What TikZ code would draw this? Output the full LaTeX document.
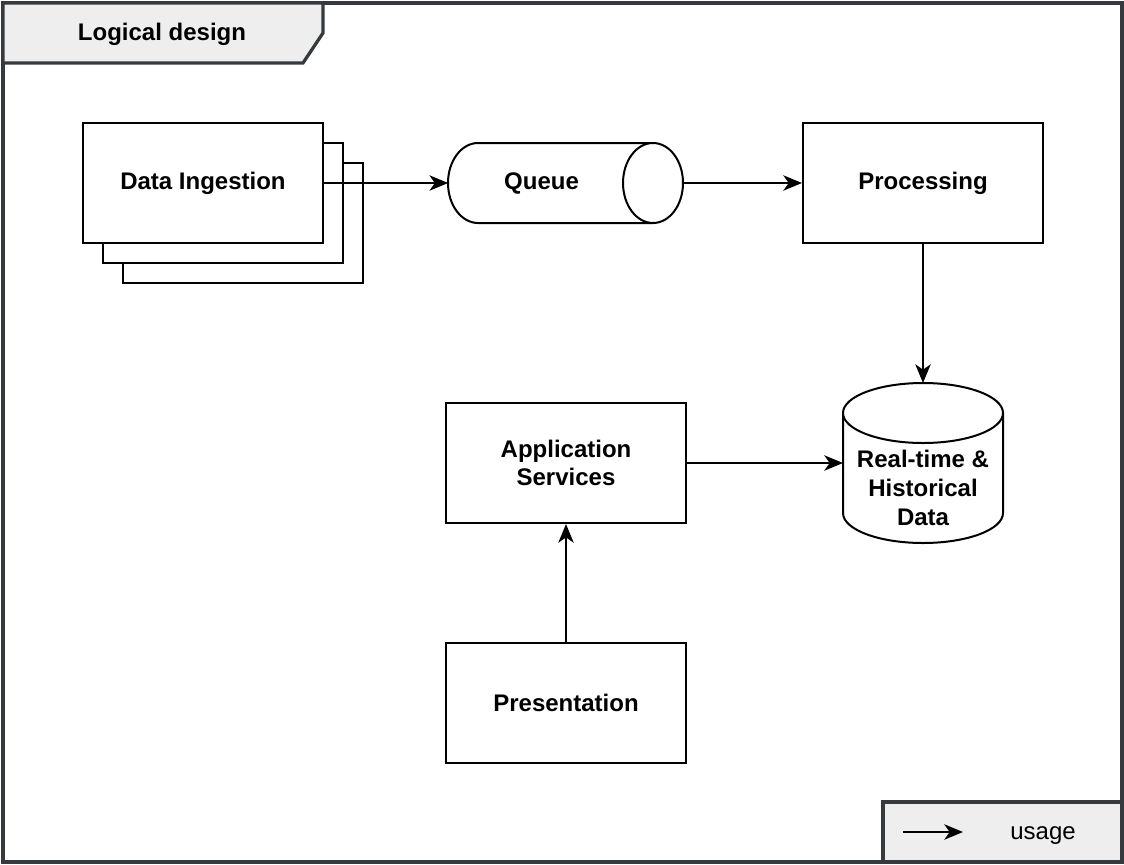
\documentclass[tikz,border=0pt]{standalone}
\usepackage{fontspec}
\setmainfont{Liberation Sans}
\usepackage{tikz}
\usetikzlibrary{positioning,arrows.meta}
\definecolor{framegray}{HTML}{36393D}
\definecolor{tabfill}{HTML}{EEEEEE}
\tikzset{
  usearrow/.style={-{Stealth[length=14pt,width=11.5pt,inset=4pt]}, line width=1.5pt},
  compbox/.style={draw, line width=1.5pt, fill=white, minimum width=180pt, minimum height=90pt, align=center, inner sep=2pt},
  shapeline/.style={line width=1.5pt, fill=white},
  hullnode/.style={inner sep=0pt, outer sep=0pt, align=center},
  framebox/.style={draw=framegray, line width=2.4pt},
  lbl/.style={font=\fontsize{18}{21.6}\selectfont}
}
\begin{document}
\begin{tikzpicture}[x=0.75pt, y=-0.75pt, every node/.style={font=\fontsize{18}{21.6}\selectfont\bfseries}]
  \useasboundingbox (0,0) rectangle (1124,864);
  % frame and title tab
  \draw[framebox] (3,3) rectangle (1122,862);
  \draw[framebox, fill=tabfill] (3,3) -- (323,3) -- (323,33) -- (303,63) -- (3,63) -- cycle;
  \node (title) at (162,34) {Logical design};
  % data ingestion stack
  \node[compbox] (ing3) at (243,223) {};
  \node[compbox] (ing2) at (223,203) {};
  \node[compbox] (ing) at (203,183) {Data Ingestion};
  % queue (horizontal cylinder)
  \draw[shapeline] (653,143) -- (478,143) arc (90:270:22.5pt and 30pt) -- (653,223);
  \draw[shapeline] (653,183) ellipse [x radius=22.5pt, y radius=30pt];
  \node[hullnode, minimum width=176pt, minimum height=60pt, label={[xshift=-18pt]center:Queue}] (queue) at (565.5,183) {};
  \node[compbox] (proc) at (923,183) {Processing};
  % data store (vertical cylinder)
  \draw[shapeline] (843,413) -- (843,513) arc (180:360:60pt and 22.5pt) -- (1003,413);
  \draw[shapeline] (923,413) ellipse [x radius=60pt, y radius=22.5pt];
  \node[hullnode, minimum width=120pt, minimum height=120pt, label={[yshift=-18.5pt, align=center]center:{Real-time \&\\Historical\\Data}}] (store) at (923,463) {};
  \node[compbox] (app) at (566,463) {Application\\Services};
  \node[compbox] (pres) at (566,703) {Presentation};
  \draw[usearrow] (ing) -- (queue);
  \draw[usearrow] (queue) -- (proc);
  \draw[usearrow] (proc) -- (store);
  \draw[usearrow] (app) -- (store);
  \draw[usearrow] (pres) -- (app);
  % legend
  \draw[framebox, fill=tabfill] (883,802) -- (883,862) -- (1122,862) -- (1122,802) -- cycle;
  \coordinate (keyA) at (903,832);
  \coordinate (keyB) at (963,832);
  \draw[usearrow] (keyA) -- (keyB);
  \node[lbl] (keytext) at (1043,836) {usage};
\end{tikzpicture}
\end{document}
